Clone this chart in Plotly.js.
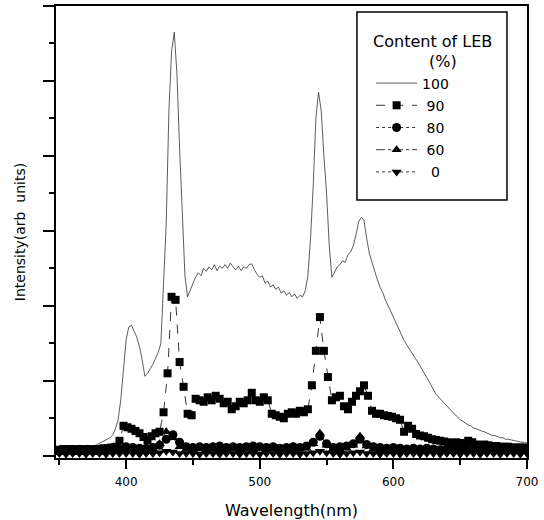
<!DOCTYPE html>
<html>
<head>
<meta charset="utf-8">
<script src="https://cdn.plot.ly/plotly-3.0.1.min.js"></script>
<style>
html,body{margin:0;padding:0;background:#fff;}
#chart{width:544px;height:520px;}
</style>
</head>
<body>
<div id="chart"></div>
<script>
// Wavelength grids (nm)
const wl100 = [350,352,354,356,358,360,362,364,366,368,370,372,374,376,378,380,382,384,386,388,
390,392,394,396,398,400,402,404,406,408,410,412,414,416,418,420,422,424,426,428,
430,432,434,436,438,440,442,444,446,448,450,452,454,456,458,460,462,464,466,468,
470,472,474,476,478,480,482,484,486,488,490,492,494,496,498,500,502,504,506,508,
510,512,514,516,518,520,522,524,526,528,530,532,534,536,538,540,542,544,546,548,
550,552,554,556,558,560,562,564,566,568,570,572,574,576,578,580,582,584,586,588,
590,592,594,596,598,600,602,604,606,608,610,612,614,616,618,620,622,624,626,628,
630,632,634,636,638,640,642,644,646,648,650,652,654,656,658,660,662,664,666,668,
670,672,674,676,678,680,682,684,686,688,690,692,694,696,698,700];
const int100 = [0.10,0.11,0.10,0.12,0.11,0.13,0.12,0.14,0.13,0.12,0.14,0.13,0.12,0.13,0.15,0.16,0.18,0.20,0.22,0.24,
0.28,0.36,0.48,0.75,1.15,1.55,1.72,1.74,1.66,1.58,1.45,1.28,1.06,1.10,1.16,1.22,1.30,1.38,1.50,2.30,
3.10,4.60,5.40,5.65,5.10,4.10,3.20,2.40,2.12,2.22,2.30,2.38,2.44,2.40,2.50,2.46,2.52,2.48,2.55,2.47,
2.53,2.50,2.55,2.50,2.57,2.52,2.48,2.53,2.47,2.52,2.50,2.55,2.56,2.48,2.42,2.38,2.40,2.30,2.33,2.25,
2.28,2.22,2.25,2.17,2.20,2.14,2.18,2.12,2.16,2.10,2.14,2.12,2.20,2.40,2.90,3.60,4.50,4.85,4.60,4.00,
3.50,2.80,2.38,2.45,2.52,2.55,2.60,2.58,2.68,2.72,2.80,2.95,3.12,3.18,3.14,2.90,2.70,2.58,2.45,2.35,
2.25,2.18,2.08,2.00,1.92,1.84,1.77,1.70,1.62,1.54,1.48,1.42,1.36,1.31,1.26,1.20,1.14,1.08,1.02,0.95,
0.88,0.82,0.78,0.74,0.70,0.66,0.62,0.58,0.55,0.52,0.48,0.46,0.43,0.41,0.40,0.37,0.36,0.34,0.33,0.32,
0.30,0.29,0.27,0.27,0.25,0.24,0.24,0.22,0.22,0.21,0.20,0.20,0.19,0.18,0.18,0.17];

const wl90 = [350,353,356,359,362,365,368,371,374,377,380,383,386,389,392,395,398,401,404,407,
410,413,416,419,422,425,428,431,434,437,440,443,446,449,452,455,458,461,464,467,
470,473,476,479,482,485,488,491,494,497,500,503,506,509,512,515,518,521,524,527,
530,533,536,539,542,545,548,551,554,557,560,563,566,569,572,575,578,581,584,587,
590,593,596,599,602,605,608,611,614,617,620,623,626,629,632,635,638,641,644,647,
650,653,656,659,662,665,668,671,674,677,680,683,686,689,692,695,698];
const int90 = [0.08,0.09,0.08,0.09,0.08,0.09,0.08,0.09,0.08,0.09,0.09,0.10,0.10,0.11,0.12,0.20,0.40,0.38,0.36,0.33,
0.30,0.25,0.21,0.26,0.30,0.32,0.58,1.10,2.12,2.08,1.25,0.92,0.56,0.54,0.76,0.74,0.72,0.78,0.74,0.80,
0.76,0.70,0.72,0.62,0.66,0.72,0.70,0.74,0.84,0.74,0.72,0.78,0.74,0.56,0.54,0.52,0.50,0.56,0.58,0.56,
0.60,0.58,0.62,0.94,1.40,1.85,1.40,1.05,0.74,0.78,0.80,0.66,0.62,0.72,0.80,0.86,0.94,0.80,0.60,0.56,
0.56,0.54,0.53,0.52,0.50,0.48,0.32,0.40,0.36,0.29,0.27,0.26,0.24,0.22,0.21,0.20,0.19,0.18,0.17,0.18,
0.17,0.16,0.20,0.18,0.15,0.14,0.15,0.14,0.13,0.13,0.12,0.12,0.12,0.11,0.11,0.11,0.11];

const wlLow = [350,355,360,365,370,375,380,385,390,395,400,405,410,415,420,425,430,435,440,445,
450,455,460,465,470,475,480,485,490,495,500,505,510,515,520,525,530,535,540,545,
550,555,560,565,570,575,580,585,590,595,600,605,610,615,620,625,630,635,640,645,
650,655,660,665,670,675,680,685,690,695,700];
const int80 = [0.06,0.07,0.06,0.07,0.06,0.07,0.07,0.08,0.08,0.09,
0.12,0.11,0.10,0.10,0.11,0.14,0.22,0.28,0.18,0.12,
0.11,0.12,0.11,0.12,0.13,0.11,0.12,0.11,0.12,0.13,
0.12,0.11,0.12,0.10,0.11,0.12,0.11,0.13,0.18,0.26,
0.16,0.11,0.12,0.13,0.16,0.22,0.15,0.12,0.11,0.10,
0.11,0.10,0.09,0.10,0.09,0.10,0.09,0.08,0.09,0.08,
0.08,0.09,0.08,0.08,0.07,0.08,0.07,0.07,0.08,0.07,0.07];
const int60 = [0.04,0.05,0.05,0.04,0.05,0.05,0.04,0.05,0.06,0.06,
0.08,0.07,0.07,0.08,0.09,0.16,0.32,0.24,0.12,0.09,
0.08,0.09,0.08,0.09,0.08,0.09,0.10,0.08,0.09,0.08,
0.09,0.08,0.09,0.08,0.09,0.08,0.09,0.10,0.16,0.30,
0.14,0.09,0.08,0.10,0.14,0.26,0.13,0.09,0.08,0.08,
0.08,0.07,0.08,0.07,0.08,0.07,0.07,0.08,0.07,0.07,
0.06,0.07,0.06,0.07,0.06,0.07,0.06,0.06,0.07,0.06,0.06];
const int0 = [0.03,0.02,0.03,0.03,0.02,0.03,0.03,0.02,0.03,0.03,
0.03,0.03,0.02,0.03,0.03,0.04,0.06,0.05,0.03,0.03,
0.03,0.02,0.03,0.03,0.02,0.03,0.03,0.02,0.03,0.03,
0.02,0.03,0.03,0.02,0.03,0.03,0.02,0.03,0.04,0.06,
0.04,0.03,0.02,0.03,0.04,0.05,0.03,0.03,0.02,0.03,
0.03,0.02,0.03,0.03,0.02,0.03,0.03,0.02,0.03,0.03,
0.02,0.03,0.03,0.02,0.03,0.03,0.02,0.03,0.03,0.02,0.03];

const NB = '\u00a0';
const names = ['100', NB + '90', NB + '80', NB + '60', NB + NB + '0'];
const legendTitle = 'Content of LEB<br>' + NB.repeat(11) + '(%)';

const FONT = 'DejaVu Sans, Verdana, sans-serif';

const traces = [
  {x: wl100, y: int100, name: names[0], legendgroup: 'g100', mode: 'lines', type: 'scatter',
   line: {color: '#333', width: 0.8}},
  {x: wl90, y: int90, name: names[1], legendgroup: 'g90', mode: 'lines+markers', type: 'scatter',
   line: {color: '#000', width: 0.8, dash: 'dash'},
   marker: {symbol: 'square', size: 8, color: '#000'}},
  {x: wlLow, y: int80, name: names[2], legendgroup: 'g80', mode: 'lines+markers', type: 'scatter',
   line: {color: '#000', width: 0.8, dash: 'dot'},
   marker: {symbol: 'circle', size: 9, color: '#000'}},
  {x: wlLow, y: int60, name: names[3], legendgroup: 'g60', mode: 'lines+markers', type: 'scatter',
   line: {color: '#000', width: 0.8, dash: 'dashdot'},
   marker: {symbol: 'triangle-up', size: 9, color: '#000'}},
  {x: wlLow, y: int0, name: names[4], legendgroup: 'g0', mode: 'lines+markers', type: 'scatter',
   line: {color: '#000', width: 0.8, dash: 'dot'},
   marker: {symbol: 'triangle-down', size: 9, color: '#000'}}
];

const layout = {
  width: 544, height: 520,
  margin: {l: 56, r: 17, t: 6, b: 62, pad: 0},
  paper_bgcolor: '#fff', plot_bgcolor: '#fff',
  font: {family: FONT, color: '#000', size: 12},
  showlegend: true,
  legend: {
    x: 0.669, y: 0.956, xanchor: 'left', yanchor: 'top',
    borderwidth: 0, bgcolor: 'rgba(0,0,0,0)',
    font: {family: FONT, size: 14, color: '#000'},
    title: {text: legendTitle, font: {family: FONT, size: 16, color: '#000'}},
    itemwidth: 41,
    tracegroupgap: 1
  },
  shapes: [
    {type: 'rect', xref: 'paper', yref: 'paper', x0: 0.639, x1: 0.9575, y0: 0.571, y1: 0.987,
     line: {color: '#000', width: 1.5}, fillcolor: '#fff', layer: 'below'}
  ],
  xaxis: {
    range: [347.5, 700], showline: true, linecolor: '#000', linewidth: 2,
    mirror: true, showgrid: false, zeroline: false,
    ticks: 'outside', ticklen: 9, tickwidth: 2, tickcolor: '#000',
    tickvals: [400, 500, 600, 700], ticklabelstandoff: 3,
    minor: {tickvals: [350, 450, 550, 650], ticks: 'outside', ticklen: 5, tickwidth: 2, tickcolor: '#000'},
    tickfont: {family: FONT, size: 12, color: '#000'},
    title: {text: 'Wavelength(nm)', font: {family: FONT, size: 16, color: '#000'}, standoff: 19}
  },
  yaxis: {
    range: [-0.03, 6.0], showline: true, linecolor: '#000', linewidth: 2,
    mirror: true, showgrid: false, zeroline: false,
    ticks: 'outside', ticklen: 11, tickwidth: 2, tickcolor: '#000',
    dtick: 1, tick0: 0, showticklabels: false,
    minor: {dtick: 0.5, ticks: 'outside', ticklen: 5, tickwidth: 2, tickcolor: '#000'},
    title: {text: 'Intensity(arb' + NB + NB + 'units)', font: {family: FONT, size: 14, color: '#000'}, standoff: 14}
  }
};

Plotly.newPlot('chart', traces, layout, {displayModeBar: false, staticPlot: true});
</script>
</body>
</html>
